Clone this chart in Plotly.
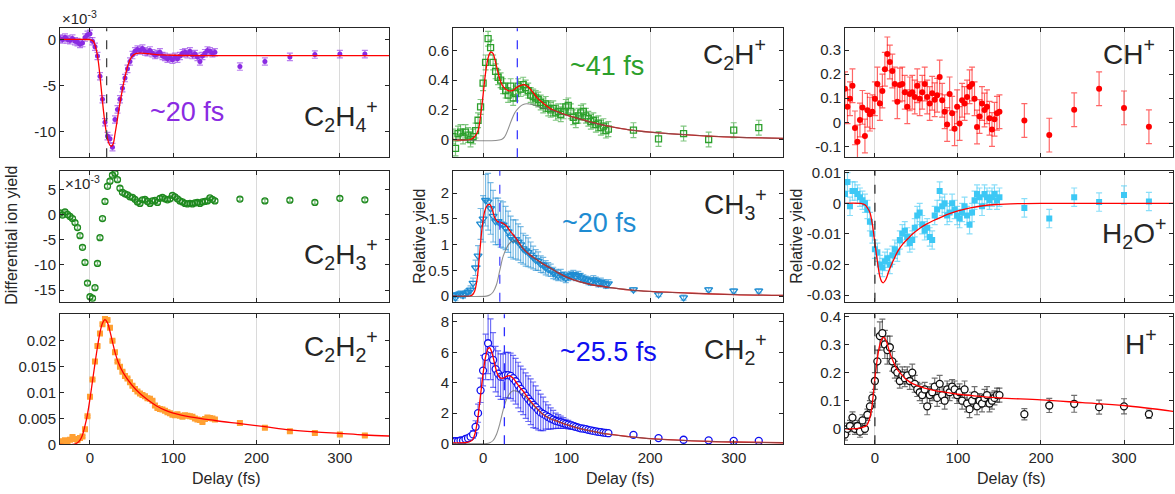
import plotly.graph_objects as go
from plotly.subplots import make_subplots

# ---- delay grid (fs) ----
delay_dense = [-36, -33, -30, -27, -24, -21, -18, -15, -12, -9,
               -6, -3, 0, 3, 6, 9, 12, 15, 18, 21,
               24, 27, 30, 33, 36, 39, 42, 45, 48, 51,
               54, 57, 60, 63, 66, 69, 72, 75, 78, 81,
               84, 87, 90, 93, 96, 99, 102, 105, 108, 111,
               114, 117, 120, 123, 126, 129, 132, 135, 138, 141,
               144, 147, 150]
delay_far = [180, 210, 240, 270, 300, 330]

# ---- C2H4+ (x1e-3) ----
c2h4_dense = [0.1, 0.0, 0.2, 0.0, -0.1, 0.1, -0.2, -0.3, -0.5, -0.4,
              0.2, 0.5, 0.6, -0.2, -0.8, -1.8, -4.0, -6.5, -9.0, -10.5,
              -10.8, -11.7, -8.7, -7.6, -6.5, -5.3, -4.2, -3.2, -2.4, -1.7,
              -1.3, -1.1, -1.2, -1.0, -1.3, -1.4, -1.2, -1.5, -1.7, -1.6,
              -1.4, -1.8, -1.9, -2.1, -2.0, -2.2, -1.9, -2.1, -1.8, -1.5,
              -1.4, -1.6, -1.3, -1.7, -1.6, -1.9, -2.4, -1.8, -1.5, -1.2,
              -1.3, -1.5, -1.4]
c2h4_far = [-2.95, -2.4, -1.9, -1.65, -1.6, -1.6]
c2h4_err = 0.4
c2h4_fit_t = [-36, -10, -4, 0, 4, 6, 8, 10, 12, 14, 16, 18, 20, 22, 24, 26, 28, 30, 32, 34,
              36, 38, 40, 43, 46, 50, 55, 60, 70, 80, 100, 150, 200, 360]
c2h4_fit_y = [0.0, 0.0, -0.01, -0.03, -0.2, -0.6, -1.3, -2.4, -4.0, -5.8, -7.6, -9.1, -10.3, -11.1,
              -11.5, -11.6, -11.3, -10.3, -9.2, -8.0, -6.9, -5.9, -4.9, -3.7, -2.7, -1.9, -1.55,
              -1.5, -1.55, -1.65, -1.72, -1.76, -1.76, -1.76]
c2h4_tau = 20

# ---- C2H+ ----
c2h_dense = [0.02, -0.06, 0.04, 0.05, 0.02, 0.05, 0.03, 0.0, 0.02, 0.06,
             0.13, 0.22, 0.38, 0.52, 0.68, 0.62, 0.52, 0.46, 0.42, 0.40,
             0.36, 0.33, 0.30, 0.36, 0.28, 0.31, 0.36, 0.34, 0.37, 0.35,
             0.33, 0.30, 0.29, 0.28, 0.27, 0.25, 0.23, 0.24, 0.21, 0.20,
             0.21, 0.18, 0.19, 0.17, 0.19, 0.22, 0.23, 0.19, 0.15, 0.13,
             0.16, 0.18, 0.19, 0.16, 0.14, 0.12, 0.13, 0.10, 0.11, 0.08,
             0.09, 0.06, 0.07]
c2h_far = [0.063, 0.004, 0.04, 0.0, 0.063, 0.08]
c2h_err = 0.05
c2h_fit_t = [-36, -15, -10, -6, -3, 0, 3, 6, 9, 12, 15, 18, 21, 25, 30, 35, 40, 45, 49, 53,
             58, 65, 72, 80, 90, 100, 115, 130, 150, 175, 200, 250, 300, 360]
c2h_fit_y = [0.0, 0.0, 0.02, 0.06, 0.16, 0.30, 0.45, 0.55, 0.59, 0.58, 0.52, 0.45, 0.39, 0.35,
             0.33, 0.33, 0.35, 0.365, 0.37, 0.36, 0.33, 0.28, 0.245, 0.21, 0.185, 0.165, 0.14,
             0.115, 0.09, 0.065, 0.05, 0.03, 0.016, 0.008]
c2h_gray_t = [-36, 22, 26, 30, 34, 38, 42, 46, 50, 55, 60, 70, 80, 90, 100, 115, 130, 150,
              175, 200, 250, 300, 360]
c2h_gray_y = [0.0, 0.0, 0.02, 0.07, 0.13, 0.18, 0.21, 0.23, 0.24, 0.24, 0.235, 0.215, 0.2,
              0.182, 0.163, 0.139, 0.114, 0.09, 0.065, 0.05, 0.03, 0.016, 0.008]
c2h_tau = 41

# ---- CH+ ----
ch_dense = [0.139, 0.065, 0.098, 0.152, -0.023, -0.081, 0.01, 0.062, -0.057, 0.05,
            0.034, 0.044, 0.098, 0.159, 0.078, 0.13, 0.22, 0.284, 0.25, 0.213,
            0.159, 0.085, 0.155, 0.159, 0.125, 0.065, 0.118, 0.125, 0.105, 0.152,
            0.098, 0.125, 0.159, 0.105, 0.078, 0.121, 0.094, 0.112, 0.188, 0.092,
            0.044, -0.009, 0.118, 0.038, -0.027, 0.065, -0.005, 0.092, 0.078, 0.105,
            0.148, 0.159, 0.098, -0.019, 0.024, 0.078, 0.051, 0.065, 0.017, -0.03,
            0.013, 0.038, 0.044]
ch_far = [0.008, -0.053, 0.052, 0.139, 0.06, -0.018]
ch_err = 0.07

# ---- C2H3+ (x1e-3) ----
c2h3_dense = [0.3, -0.1, 0.5, 0.0, -0.4, -0.8, -1.6, -2.6, -4.2, -6.5,
              -9.5, -13.6, -16.3, -16.6, -14.5, -9.7, -4.6, -0.8, 2.6, 5.6,
              6.6, 7.8, 8.2, 6.9, 5.2, 4.4, 4.1, 3.9, 3.5, 3.4,
              3.0, 2.5, 2.2, 2.9, 3.0, 2.6, 2.2, 2.7, 2.8, 2.4,
              3.2, 3.4, 3.1, 2.9, 3.1, 3.8, 3.5, 3.1, 2.7, 2.5,
              2.2, 2.1, 2.2, 2.1, 2.3, 2.4, 2.2, 2.5, 2.6, 2.7,
              3.3, 3.0, 2.7]
c2h3_far = [3.05, 2.7, 2.85, 2.4, 3.2, 2.9]
c2h3_err = 0.35

# ---- CH3+ ----
ch3_dense = [0.02, -0.03, 0.03, 0.05, 0.02, 0.05, 0.08, 0.12, 0.25, 0.55,
             0.78, 1.4, 1.5, 1.86, 1.83, 1.7, 1.55, 1.45, 1.45, 1.4,
             1.38, 1.32, 1.25, 1.15, 1.1, 1.1, 1.05, 1.0, 0.92, 0.88,
             0.85, 0.8, 0.75, 0.7, 0.68, 0.62, 0.6, 0.55, 0.52, 0.5,
             0.45, 0.42, 0.4, 0.42, 0.38, 0.35, 0.38, 0.4, 0.42, 0.38,
             0.4, 0.36, 0.34, 0.32, 0.3, 0.28, 0.32, 0.3, 0.25, 0.27,
             0.25, 0.22, 0.24]
ch3_far = [0.125, 0.03, -0.03, 0.125, 0.1, 0.1]
ch3_err = [0.05, 0.06, 0.05, 0.05, 0.06, 0.05, 0.06, 0.08, 0.1, 0.15,
           0.2, 0.3, 0.45, 0.5, 0.55, 0.5, 0.5, 0.45, 0.45, 0.45,
           0.45, 0.42, 0.4, 0.4, 0.38, 0.38, 0.35, 0.35, 0.3, 0.3,
           0.28, 0.25, 0.22, 0.2, 0.18, 0.16, 0.15, 0.14, 0.13, 0.12,
           0.11, 0.1, 0.1, 0.1, 0.09, 0.09, 0.08, 0.08, 0.08, 0.08,
           0.08, 0.08, 0.07, 0.07, 0.08, 0.07, 0.08, 0.07, 0.07, 0.08,
           0.07, 0.07, 0.08,
           0.04, 0.04, 0.05, 0.04, 0.04, 0.04]
ch3_fit_t = [-36, -16, -13, -10, -7, -4, -1, 2, 5, 8, 11, 14, 17, 21, 25, 28, 32, 36, 40, 48,
             56, 64, 72, 80, 90, 100, 115, 130, 150, 175, 200, 250, 300, 360]
ch3_fit_y = [0.0, 0.0, 0.02, 0.1, 0.35, 0.85, 1.35, 1.65, 1.76, 1.78, 1.68, 1.52, 1.45, 1.43,
             1.40, 1.36, 1.27, 1.19, 1.11, 0.92, 0.80, 0.71, 0.62, 0.55, 0.45, 0.37, 0.28,
             0.22, 0.17, 0.12, 0.09, 0.055, 0.03, 0.015]
ch3_gray_t = [-36, 4, 8, 12, 16, 20, 24, 28, 32, 36, 40, 44, 48, 56, 64, 72, 80, 90, 100,
              115, 130, 150, 175, 200, 250, 300, 360]
ch3_gray_y = [0.0, 0.0, 0.02, 0.08, 0.22, 0.5, 0.77, 0.93, 1.03, 1.07, 1.06, 1.0, 0.93,
              0.8, 0.71, 0.62, 0.55, 0.45, 0.37, 0.28, 0.22, 0.17, 0.12, 0.09, 0.055, 0.03, 0.015]
ch3_tau = 20

# ---- H2O+ ----
h2o_dense = [0.003, 0.007, -0.001, 0.004, 0.004, 0.003, 0.002, 0.001, 0.0, -0.002,
             -0.006, -0.010, -0.015, -0.016, -0.020, -0.021, -0.019, -0.018, -0.020, -0.017,
             -0.015, -0.016, -0.012, -0.010, -0.009, -0.011, -0.013, -0.012, -0.008, -0.004,
             -0.003, -0.007, -0.009, -0.008, -0.011, -0.012, -0.004, -0.002, 0.004, -0.001,
             0.000, -0.004, -0.003, 0.000, -0.002, -0.004, -0.005, -0.003, -0.001, -0.004,
             -0.007, -0.003, 0.001, 0.003, 0.002, -0.001, 0.003, 0.002, 0.001, 0.002,
             0.003, 0.001, 0.002]
h2o_far = [-0.0015, -0.005, 0.002, 0.0004, 0.0027, 0.0006]
h2o_err = 0.003
h2o_fit_t = [-36, -16, -12, -9, -6, -3, 0, 3, 6, 8, 10, 13, 17, 22, 28, 34, 40, 46, 55, 62,
             70, 80, 90, 100, 115, 130, 146, 175, 200, 360]
h2o_fit_y = [0.0, -0.0001, -0.0005, -0.0015, -0.003, -0.007, -0.013, -0.019, -0.024, -0.0255,
             -0.026, -0.025, -0.022, -0.0188, -0.0155, -0.0132, -0.0115, -0.0099, -0.008,
             -0.0068, -0.0057, -0.0045, -0.0034, -0.0025, -0.0015, -0.0008, -0.0004, -0.0001,
             0.0, 0.0]
h2o_tau = 0

# ---- C2H2+ ----
c2h2_dense = [0.0005, 0.0006, 0.0008, 0.0006, 0.0009, 0.0014, 0.0010, 0.0008, 0.0012, 0.0015,
              0.0029, 0.0054, 0.0092, 0.0125, 0.0160, 0.0190, 0.0214, 0.0232, 0.0242, 0.0240,
              0.0225, 0.0200, 0.0178, 0.0160, 0.0150, 0.0140, 0.0132, 0.0127, 0.0120, 0.0113,
              0.0107, 0.0102, 0.0098, 0.0095, 0.0093, 0.0089, 0.0088, 0.0084, 0.0075, 0.0070,
              0.0068, 0.0067, 0.0065, 0.0062, 0.0060, 0.0057, 0.0056, 0.0058, 0.0055, 0.0053,
              0.0056, 0.0055, 0.0054, 0.0053, 0.0050, 0.0048, 0.0047, 0.0043, 0.0049, 0.0052,
              0.0051, 0.0050, 0.0048]
c2h2_far = [0.0041, 0.0032, 0.0025, 0.0022, 0.0019, 0.0017]
c2h2_err = 0.0002
c2h2_fit_t = [-36, -20, -15, -12, -9, -6, -3, 0, 3, 6, 9, 12, 15, 18, 21, 24, 27, 30, 34, 40,
              50, 60, 70, 80, 90, 100, 120, 150, 180, 210, 240, 270, 300, 330, 360]
c2h2_fit_y = [0.0, 0.0, 0.0003, 0.0008, 0.0018, 0.0036, 0.0058, 0.0088, 0.0122, 0.0156,
              0.0188, 0.0216, 0.0234, 0.0241, 0.0235, 0.0218, 0.0198, 0.0178, 0.0158, 0.0138,
              0.0115, 0.0098, 0.0085, 0.0074, 0.0066, 0.006, 0.0053, 0.0046, 0.004, 0.0034,
              0.0028, 0.0024, 0.0021, 0.0018, 0.0016]

# ---- CH2+ ----
ch2_dense = [0.15, 0.15, 0.15, 0.2, 0.2, 0.3, 0.35, 0.45, 0.6, 1.1,
             2.0, 3.5, 4.8, 5.7, 6.6, 6.2, 5.5, 4.9, 4.6, 4.4,
             4.4, 4.5, 4.5, 4.45, 4.3, 4.1, 3.85, 3.6, 3.4, 3.15,
             2.95, 2.75, 2.55, 2.4, 2.2, 2.05, 1.95, 1.85, 1.75, 1.65,
             1.58, 1.5, 1.45, 1.4, 1.35, 1.3, 1.25, 1.2, 1.15, 1.1,
             1.05, 1.0, 0.98, 0.95, 0.9, 0.87, 0.83, 0.8, 0.77, 0.75,
             0.72, 0.7, 0.68]
ch2_far = [0.57, 0.36, 0.25, 0.21, 0.17, 0.17]
ch2_err = [0.1, 0.1, 0.1, 0.1, 0.1, 0.1, 0.1, 0.15, 0.25, 0.4,
           0.6, 0.8, 1.0, 1.5, 2.0, 2.0, 1.8, 1.5, 1.5, 1.5,
           1.5, 1.5, 1.5, 1.5, 1.5, 1.5, 1.5, 1.5, 1.5, 1.5,
           1.5, 1.5, 1.5, 1.4, 1.3, 1.2, 1.1, 0.9, 0.8, 0.7,
           0.6, 0.5, 0.45, 0.4, 0.35, 0.3, 0.28, 0.25, 0.22, 0.2,
           0.18, 0.17, 0.16, 0.15, 0.14, 0.14, 0.13, 0.13, 0.12, 0.12,
           0.12, 0.12, 0.12,
           0.1, 0.1, 0.1, 0.1, 0.1, 0.1]
ch2_fit_t = [-36, -20, -15, -12, -9, -6, -3, 0, 3, 6, 8, 11, 14, 17, 20, 24, 28, 32, 36, 40,
             44, 48, 55, 62, 70, 80, 90, 100, 115, 130, 148, 175, 200, 250, 300, 360]
ch2_fit_y = [0.05, 0.07, 0.15, 0.3, 0.8, 1.8, 3.2, 4.6, 5.7, 6.25, 6.3, 5.9, 5.2, 4.6, 4.35,
             4.3, 4.42, 4.46, 4.3, 4.0, 3.7, 3.45, 2.9, 2.45, 2.0, 1.65, 1.45, 1.25, 1.0,
             0.82, 0.63, 0.45, 0.32, 0.18, 0.1, 0.05]
ch2_gray_t = [-36, 4, 8, 12, 16, 20, 24, 28, 32, 36, 40, 44, 48, 55, 62, 70, 80, 90, 100,
              115, 130, 148, 175, 200, 250, 300, 360]
ch2_gray_y = [0.0, 0.0, 0.05, 0.2, 0.6, 1.3, 2.2, 2.9, 3.3, 3.47, 3.45, 3.35, 3.2, 2.8, 2.4,
              2.0, 1.65, 1.45, 1.25, 1.0, 0.82, 0.63, 0.45, 0.32, 0.18, 0.1, 0.05]
ch2_tau = 25.5

# ---- H+ ----
h_dense = [-0.02, 0.0, 0.01, 0.04, 0.0, 0.01, -0.01, 0.03, 0.0, 0.05,
           0.08, 0.11, 0.17, 0.24, 0.33, 0.34, 0.30, 0.28, 0.29, 0.24,
           0.21, 0.2, 0.17, 0.19, 0.18, 0.19, 0.17, 0.2, 0.16, 0.14,
           0.13, 0.12, 0.14, 0.08, 0.12, 0.13, 0.15, 0.11, 0.16, 0.12,
           0.1, 0.14, 0.13, 0.15, 0.14, 0.12, 0.13, 0.1, 0.14, 0.09,
           0.07, 0.1, 0.12, 0.08, 0.1, 0.09, 0.11, 0.12, 0.09, 0.1,
           0.11, 0.12, 0.12]
h_far = [0.052, 0.083, 0.089, 0.077, 0.08, 0.052]
h_err = [0.02, 0.02, 0.02, 0.02, 0.02, 0.02, 0.02, 0.02, 0.02, 0.02,
         0.02, 0.02, 0.03, 0.04, 0.05, 0.05, 0.05, 0.05, 0.04, 0.035,
         0.03, 0.03, 0.025, 0.03, 0.03, 0.03, 0.03, 0.03, 0.03, 0.025,
         0.03, 0.03, 0.025, 0.03, 0.03, 0.03, 0.03, 0.03, 0.03, 0.03,
         0.03, 0.03, 0.03, 0.025, 0.03, 0.03, 0.03, 0.03, 0.03, 0.03,
         0.03, 0.03, 0.03, 0.03, 0.025, 0.03, 0.03, 0.03, 0.03, 0.03,
         0.025, 0.025, 0.025,
         0.02, 0.025, 0.03, 0.025, 0.027, 0.015]
h_fit_t = [-36, -20, -14, -10, -7, -4, -2, 0, 3, 6, 9, 11, 14, 18, 22, 26, 30, 38, 46, 60,
           80, 100, 125, 150, 200, 250, 300, 360]
h_fit_y = [0.0, 0.002, 0.006, 0.012, 0.03, 0.07, 0.12, 0.18, 0.25, 0.3, 0.322, 0.325, 0.31,
           0.27, 0.24, 0.215, 0.2, 0.175, 0.16, 0.145, 0.132, 0.123, 0.116, 0.11, 0.103,
           0.093, 0.083, 0.062]
h_tau = 0

# ---- styling ----
W, H = 1175, 494
FONT = "Liberation Sans, Arial, sans-serif"
INK = "#262626"
TICK = 15
delays = delay_dense + delay_far

col_px = [(60, 389), (453, 783), (845, 1173)]
row_px = [(22, 155), (169, 304), (317, 451)]


def rgba(hexcol, a):
    h = hexcol.lstrip("#")
    return "rgba(%d,%d,%d,%.2f)" % (int(h[0:2], 16), int(h[2:4], 16), int(h[4:6], 16), a)


panels = [
    dict(r=1, c=1, y=c2h4_dense + c2h4_far, err=c2h4_err, sym="circle", size=5, col="#8a2be2",
         open=False, yr=[-12.8, 1.2], tv=[-10, -5, 0], tt=["-10", "-5", "0"],
         fit=(c2h4_fit_t, c2h4_fit_y), gray=None, vline=(c2h4_tau, "#444444")),
    dict(r=1, c=2, y=c2h_dense + c2h_far, err=c2h_err, sym="square-open", size=6, col="#2ca02c",
         open=True, yr=[-0.12, 0.75], tv=[0, 0.2, 0.4, 0.6], tt=["0", "0.2", "0.4", "0.6"],
         fit=(c2h_fit_t, c2h_fit_y), gray=(c2h_gray_t, c2h_gray_y), vline=(c2h_tau, "#3c3cff")),
    dict(r=1, c=3, y=ch_dense + ch_far, err=ch_err, sym="circle", size=6, col="#ff0000",
         open=False, yr=[-0.145, 0.39], tv=[-0.1, 0, 0.1, 0.2, 0.3],
         tt=["-0.1", "0", "0.1", "0.2", "0.3"], fit=None, gray=None, vline=None),
    dict(r=2, c=1, y=c2h3_dense + c2h3_far, err=c2h3_err, sym="circle-open", size=6, col="#1f8a1f",
         open=True, yr=[-17.3, 8.65], tv=[-15, -10, -5, 0, 5], tt=["-15", "-10", "-5", "0", "5"],
         fit=None, gray=None, vline=None),
    dict(r=2, c=2, y=ch3_dense + ch3_far, err=ch3_err, sym="triangle-down-open", size=7,
         col="#1e8cd2", open=True, yr=[-0.11, 2.43], tv=[0, 0.5, 1, 1.5, 2],
         tt=["0", "0.5", "1", "1.5", "2"], fit=(ch3_fit_t, ch3_fit_y),
         gray=(ch3_gray_t, ch3_gray_y), vline=(ch3_tau, "#5050ff")),
    dict(r=2, c=3, y=h2o_dense + h2o_far, err=h2o_err, sym="square", size=6, col="#3cc8f5",
         open=False, yr=[-0.0322, 0.0106], tv=[-0.03, -0.02, -0.01, 0, 0.01],
         tt=["-0.03", "-0.02", "-0.01", "0", "0.01"], fit=(h2o_fit_t, h2o_fit_y), gray=None,
         vline=(h2o_tau, "#333333")),
    dict(r=3, c=1, y=c2h2_dense + c2h2_far, err=c2h2_err, sym="square", size=6, col="#ffa033",
         open=False, yr=[0, 0.0251], tv=[0, 0.005, 0.01, 0.015, 0.02],
         tt=["0", "0.005", "0.01", "0.015", "0.02"], fit=(c2h2_fit_t, c2h2_fit_y), gray=None,
         vline=None),
    dict(r=3, c=2, y=ch2_dense + ch2_far, err=ch2_err, sym="circle", size=7, col="#1010f0",
         open=True, yr=[-0.05, 8.5], tv=[0, 2, 4, 6, 8], tt=["0", "2", "4", "6", "8"],
         fit=(ch2_fit_t, ch2_fit_y), gray=(ch2_gray_t, ch2_gray_y), vline=(ch2_tau, "#2d2dff")),
    dict(r=3, c=3, y=h_dense + h_far, err=h_err, sym="circle", size=7, col="#111111",
         open=True, yr=[-0.055, 0.407], tv=[0, 0.1, 0.2, 0.3, 0.4],
         tt=["0", "0.1", "0.2", "0.3", "0.4"], fit=(h_fit_t, h_fit_y), gray=None,
         vline=(h_tau, "#333333")),
]

fig = make_subplots(rows=3, cols=3)

for p in panels:
    r, c = p["r"], p["c"]
    if isinstance(p["err"], list):
        ey = dict(type="data", array=p["err"])
    else:
        ey = dict(type="constant", value=p["err"])
    ey.update(color=rgba(p["col"], 0.6), thickness=1.2, width=3)
    if p["sym"] == "circle" and p["open"]:
        mk = dict(symbol="circle", size=p["size"], color="white",
                  line=dict(color=p["col"], width=1.3))
    elif p["open"]:
        mk = dict(symbol=p["sym"], size=p["size"], color=p["col"], line=dict(width=1.3))
    else:
        mk = dict(symbol=p["sym"], size=p["size"], color=p["col"], line=dict(width=0))
    fig.add_trace(go.Scatter(x=delays, y=p["y"], mode="markers", marker=mk, error_y=ey,
                             showlegend=False), row=r, col=c)
    if p["fit"]:
        fig.add_trace(go.Scatter(x=p["fit"][0], y=p["fit"][1], mode="lines",
                                 line=dict(color="#ff0000", width=1.3, shape="spline"),
                                 showlegend=False), row=r, col=c)
    if p["gray"]:
        fig.add_trace(go.Scatter(x=p["gray"][0], y=p["gray"][1], mode="lines", opacity=0.7,
                                 line=dict(color="#606060", width=1.1, shape="spline"),
                                 showlegend=False), row=r, col=c)
    if p["vline"]:
        fig.add_vline(x=p["vline"][0], line=dict(color=p["vline"][1], width=1.3, dash="dash"),
                      row=r, col=c)

    k = (r - 1) * 3 + c
    xa = "xaxis" if k == 1 else "xaxis%d" % k
    ya = "yaxis" if k == 1 else "yaxis%d" % k
    x0, x1 = col_px[c - 1]
    y0, y1 = row_px[r - 1]
    fig.layout[xa].update(
        domain=[x0 / W, x1 / W], range=[-36, 359], tickvals=[0, 100, 200, 300],
        showticklabels=(r == 3), showgrid=True, gridcolor="#dadada", gridwidth=1,
        zeroline=False, showline=True, linecolor=INK, linewidth=1, mirror="ticks",
        ticks="inside", ticklen=4, tickcolor=INK,
        tickfont=dict(family=FONT, size=TICK, color=INK))
    fig.layout[ya].update(
        domain=[1 - y1 / H, 1 - y0 / H], range=p["yr"], tickvals=p["tv"], ticktext=p["tt"],
        showgrid=False, zeroline=False, showline=True, linecolor=INK, linewidth=1,
        mirror="ticks", ticks="inside", ticklen=4, tickcolor=INK,
        tickfont=dict(family=FONT, size=TICK, color=INK))

# text labels (pixel positions)
labels = [
    ("~20 fs", 187, 108, 27, "#8a2be2"),
    ("C<sub>2</sub>H<sub>4</sub><sup>+</sup>", 341, 112, 28, INK),
    ("~41 fs", 607, 61, 27, "#2ca02c"),
    ("C<sub>2</sub>H<sup>+</sup>", 734, 48, 28, INK),
    ("CH<sup>+</sup>", 1129, 46, 28, INK),
    ("C<sub>2</sub>H<sub>3</sub><sup>+</sup>", 341, 255, 28, INK),
    ("~20 fs", 599, 223, 27, "#1e8cd2"),
    ("CH<sub>3</sub><sup>+</sup>", 736, 203, 28, INK),
    ("H<sub>2</sub>O<sup>+</sup>", 1134, 233, 28, INK),
    ("C<sub>2</sub>H<sub>2</sub><sup>+</sup>", 341, 350, 28, INK),
    ("~25.5 fs", 608, 356, 27, "#1010f0"),
    ("CH<sub>2</sub><sup>+</sup>", 735, 353, 28, INK),
    ("H<sup>+</sup>", 1141, 346, 28, INK),
]
for txt, x, y, s, colr in labels:
    fig.add_annotation(x=x / W, y=1 - y / H, xref="paper", yref="paper", text=txt,
                       showarrow=False, xanchor="center", yanchor="middle",
                       font=dict(family=FONT, size=s, color=colr))

for x, y in [(60, 11), (63, 181)]:
    fig.add_annotation(x=x / W, y=1 - y / H, xref="paper", yref="paper",
                       text="\u00d710<sup>-3</sup>", showarrow=False, xanchor="left",
                       yanchor="middle", font=dict(family=FONT, size=15, color=INK))

for txt, x, y, ang in [("Differential ion yield", 12, 236, -90), ("Relative yield", 420, 237, -90),
                       ("Relative yield", 797, 237, -90), ("Delay (fs)", 226, 486, 0),
                       ("Delay (fs)", 620, 486, 0), ("Delay (fs)", 1011, 486, 0)]:
    fig.add_annotation(x=x / W, y=1 - y / H, xref="paper", yref="paper", text=txt,
                       showarrow=False, textangle=ang, xanchor="center", yanchor="middle",
                       font=dict(family=FONT, size=16, color=INK))

fig.update_layout(width=W, height=H, margin=dict(l=0, r=0, t=0, b=0),
                  paper_bgcolor="white", plot_bgcolor="white",
                  font=dict(family=FONT, size=TICK, color=INK))

fig.write_html("out.html", config={"displayModeBar": False},
               post_script="document.body.style.margin='0';")
